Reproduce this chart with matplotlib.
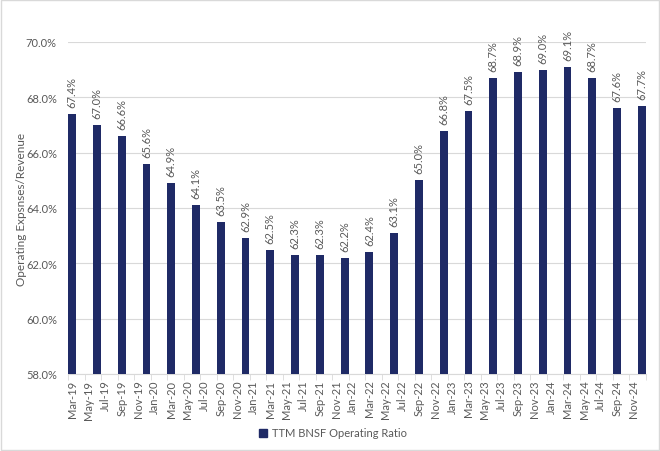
import matplotlib.pyplot as plt
import numpy as np

# monthly axis labels (every other month) and quarterly bars
tick_labels = ["Mar-19", "May-19", "Jul-19", "Sep-19", "Nov-19", "Jan-20", "Mar-20", "May-20",
               "Jul-20", "Sep-20", "Nov-20", "Jan-21", "Mar-21", "May-21", "Jul-21", "Sep-21",
               "Nov-21", "Jan-22", "Mar-22", "May-22", "Jul-22", "Sep-22", "Nov-22", "Jan-23",
               "Mar-23", "May-23", "Jul-23", "Sep-23", "Nov-23", "Jan-24", "Mar-24", "May-24",
               "Jul-24", "Sep-24", "Nov-24"]
quarters = ["Mar-19", "Jun-19", "Sep-19", "Dec-19", "Mar-20", "Jun-20", "Sep-20", "Dec-20",
            "Mar-21", "Jun-21", "Sep-21", "Dec-21", "Mar-22", "Jun-22", "Sep-22", "Dec-22",
            "Mar-23", "Jun-23", "Sep-23", "Dec-23", "Mar-24", "Jun-24", "Sep-24", "Dec-24"]
ratio = [67.4, 67.0, 66.6, 65.6, 64.9, 64.1, 63.5, 62.9, 62.5, 62.3, 62.3, 62.2,
         62.4, 63.1, 65.0, 66.8, 67.5, 68.7, 68.9, 69.0, 69.1, 68.7, 67.6, 67.7]

plt.rcParams['font.family'] = ['Lato', 'DejaVu Sans']
grey = '#595959'
navy = '#1f2a66'

# months since Mar-19
bar_x = np.arange(len(quarters)) * 3
label_x = np.arange(len(tick_labels)) * 2

fig = plt.figure(figsize=(6.6, 4.52), dpi=100)
ax = fig.add_axes([68/660, 1-375/452, 578/660, 332/452])

ax.bar(bar_x, ratio, width=0.95, color=navy, zorder=3)
for x, v in zip(bar_x, ratio):
    ax.annotate(f"{v:.1f}%", (x, v), xytext=(0, 5), textcoords='offset points',
                rotation=90, ha='center', va='bottom', fontsize=8, color=grey)

ax.set_xlim(-0.5, 69.5)
ax.set_ylim(58, 70)
ax.set_yticks(np.arange(58, 70.1, 2))
ax.set_yticklabels([f"{t:.1f}%" for t in np.arange(58, 70.1, 2)], fontsize=8, color=grey)
ax.set_xticks(label_x)
ax.set_xticklabels(tick_labels, rotation=90, fontsize=8, color=grey)
ax.set_xticks(np.arange(-0.5, 70, 2), minor=True)
ax.tick_params(axis='x', which='major', length=0, pad=4)
ax.tick_params(axis='x', which='minor', length=4, color='#d9d9d9')
ax.tick_params(axis='y', length=0, pad=8)
ax.grid(axis='y', color='#d9d9d9', linewidth=0.8, zorder=0)
for s in ['top', 'right', 'left']:
    ax.spines[s].set_visible(False)
ax.spines['bottom'].set_color('#d9d9d9')
ax.set_ylabel("Operating Expsnses/Revenue", fontsize=8.5, color=grey, va='center')
ax.yaxis.set_label_coords((22 - 68) / 578, 0.5)

fig.legend(handles=[plt.Rectangle((0, 0), 1, 1, color=navy)], labels=["TTM BNSF Operating Ratio"],
           loc='center', bbox_to_anchor=(333/660, 1-434/452), frameon=False, fontsize=8,
           labelcolor=grey, handlelength=0.7, handleheight=0.7, handletextpad=0.4)

# light chart border
fig.patches.append(plt.Rectangle((0.002, 0.002), 0.996, 0.996, transform=fig.transFigure,
                                 fill=False, edgecolor='#d9d9d9', linewidth=1))

fig.savefig("out.png", dpi=100)
